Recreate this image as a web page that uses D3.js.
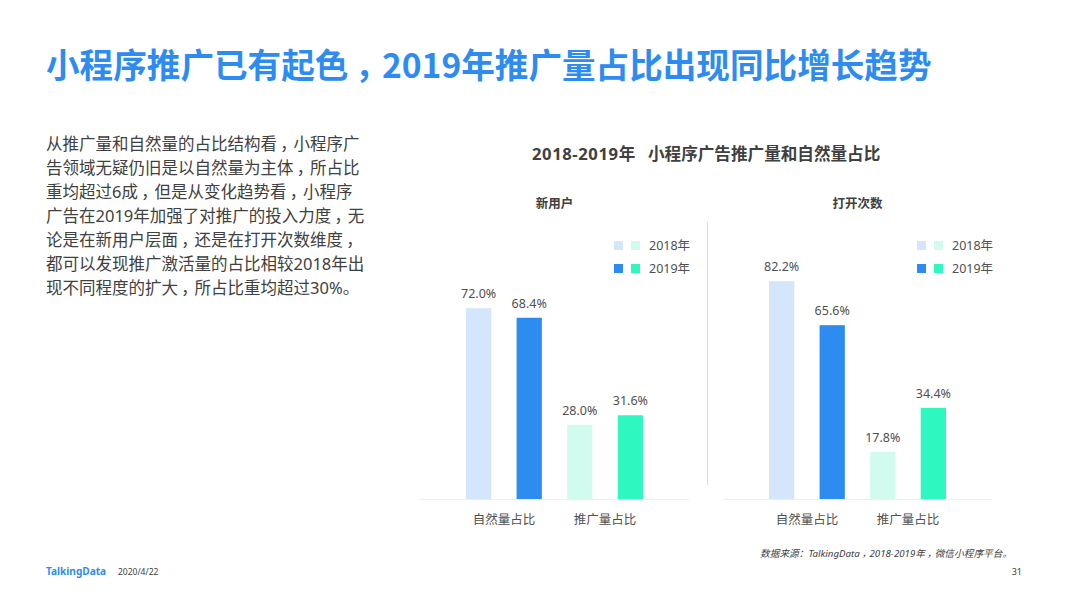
<!DOCTYPE html>
<html>
<head>
<meta charset="utf-8">
<script src="https://cdnjs.cloudflare.com/ajax/libs/d3/7.8.5/d3.min.js"></script>
<style>
  html, body { margin: 0; padding: 0; background: #fff; }
  svg { display: block; }
  text { font-family: "Noto Sans", "Noto Sans CJK SC", sans-serif; fill: #404040; }
</style>
</head>
<body>
<svg width="1066" height="599"></svg>
<script>
// values
const categories = ["自然量占比", "推广量占比"]
const years = ["2018年", "2019年"]
const newUser2018 = [72.0, 28.0]
const newUser2019 = [68.4, 31.6]
const opens2018 = [82.2, 17.8]
const opens2019 = [65.6, 34.4]

const titleText = "小程序推广已有起色，2019年推广量占比出现同比增长趋势"
const chartYears = "2018-2019年"
const chartTitle = "小程序广告推广量和自然量占比"
const sourceText = "数据来源：TalkingData，2018-2019年，微信小程序平台。"
const bodyLines = [
    "从推广量和自然量的占比结构看，小程序广",
    "告领域无疑仍旧是以自然量为主体，所占比",
    "重均超过6成，但是从变化趋势看，小程序",
    "广告在2019年加强了对推广的投入力度，无",
    "论是在新用户层面，还是在打开次数维度，",
    "都可以发现推广激活量的占比相较2018年出",
    "现不同程度的扩大，所占比重均超过30%。"
]

const blues = ["#d4e6fc", "#2e8cf0"]
const greens = ["#d2fbf0", "#2ef8c0"]
const cjk = '"Noto Sans CJK SC", sans-serif'

var svg = d3.select("svg")

// the reference centres its commas in the em box, SC font puts them left
function setText(sel, str) {
    var dx = Array.from(str).map(function (ch, i, all) {
        if (ch === "，") return "0.2em"
        if (i > 0 && all[i - 1] === "，") return "-0.2em"
        return "0"
    })
    sel.attr("dx", dx.join(" ")).text(str)
}

svg.append("text")
    .attr("x", 46).attr("y", 78)
    .attr("font-size", "33.6px")
    .attr("font-weight", 700)
    .style("fill", "#2e8cf0")
    .style("font-family", cjk)
    .call(setText, titleText)

svg.append("g").selectAll("text")
    .data(bodyLines)
    .enter().append("text")
    .attr("x", 46)
    .attr("y", (d, i) => 150 + i * 24)
    .attr("font-size", "16.5px")
    .each(function (d) { setText(d3.select(this), d) })

svg.append("text")
    .attr("x", 532).attr("y", 160)
    .attr("font-size", "16.6px")
    .attr("font-weight", 700)
    .attr("letter-spacing", "0.6px")
    .text(chartYears)

svg.append("text")
    .attr("x", 648).attr("y", 160)
    .attr("font-size", "16.6px")
    .attr("font-weight", 700)
    .text(chartTitle)

// y scale is shared, both panels use the same baseline
var y = d3.scaleLinear().domain([0, 100]).range([499, 234])

function drawPanel(left, name, v2018, v2019) {
    var g = svg.append("g").attr("transform", "translate(" + left + ",0)")
    var x = d3.scaleBand().domain(categories).range([0, 269]).paddingInner(0).paddingOuter(0.33)
    var x1 = d3.scaleBand().domain(years).range([0, x.bandwidth()]).paddingInner(0.5).paddingOuter(0.25)

    g.append("text")
        .attr("x", 134.5).attr("y", 208)
        .attr("text-anchor", "middle")
        .attr("font-size", "12.5px")
        .attr("font-weight", 700)
        .text(name)

    var rows = []
    categories.forEach(function (c, i) {
        var pal = i == 0 ? blues : greens
        rows.push({ cat: c, year: years[0], value: v2018[i], color: pal[0] })
        rows.push({ cat: c, year: years[1], value: v2019[i], color: pal[1] })
    })

    g.selectAll(".bar")
        .data(rows)
        .enter().append("rect")
        .attr("class", "bar")
        .attr("x", d => x(d.cat) + x1(d.year))
        .attr("y", d => y(d.value))
        .attr("width", x1.bandwidth())
        .attr("height", d => y(0) - y(d.value))
        .attr("fill", d => d.color)

    g.selectAll(".val")
        .data(rows)
        .enter().append("text")
        .attr("class", "val")
        .attr("x", d => x(d.cat) + x1(d.year) + x1.bandwidth() / 2)
        .attr("y", d => y(d.value) - 10)
        .attr("text-anchor", "middle")
        .attr("font-size", "12.5px")
        .style("fill", "#505050")
        .text(d => d.value.toFixed(1) + "%")

    var axis = g.append("g")
        .attr("transform", "translate(0,499)")
        .call(d3.axisBottom(x).tickSize(0).tickPadding(16))
    axis.select(".domain").attr("stroke", "#eeeeee")
    axis.selectAll("text")
        .attr("font-size", "12.5px")
        .style("font-family", cjk)
        .style("fill", "#505050")

    // legend
    years.forEach(function (yr, i) {
        var ly = 241 + i * 23
        g.append("rect").attr("x", 194).attr("y", ly).attr("width", 9).attr("height", 9).attr("fill", blues[i])
        g.append("rect").attr("x", 211).attr("y", ly).attr("width", 9).attr("height", 9).attr("fill", greens[i])
        g.append("text")
            .attr("x", 229).attr("y", ly + 9)
            .attr("font-size", "12.5px")
            .style("fill", "#505050")
            .text(yr)
    })
}

drawPanel(420, "新用户", newUser2018, newUser2019)
drawPanel(723, "打开次数", opens2018, opens2019)

// divider between the panels
svg.append("line")
    .attr("x1", 707.5).attr("x2", 707.5)
    .attr("y1", 222).attr("y2", 485)
    .attr("stroke", "#dddddd")

// footer
svg.append("text")
    .attr("x", 46).attr("y", 575)
    .attr("font-size", "10.1px")
    .attr("font-weight", 700)
    .style("fill", "#2e8cf0")
    .text("TalkingData")

svg.append("text")
    .attr("x", 118).attr("y", 575)
    .attr("font-size", "8.5px")
    .text("2020/4/22")

svg.append("text")
    .attr("x", 760).attr("y", 557)
    .attr("font-size", "9.7px")
    .attr("font-style", "italic")
    .call(setText, sourceText)

svg.append("text")
    .attr("x", 1022).attr("y", 575)
    .attr("text-anchor", "end")
    .attr("font-size", "9px")
    .text("31")
</script>
</body>
</html>
